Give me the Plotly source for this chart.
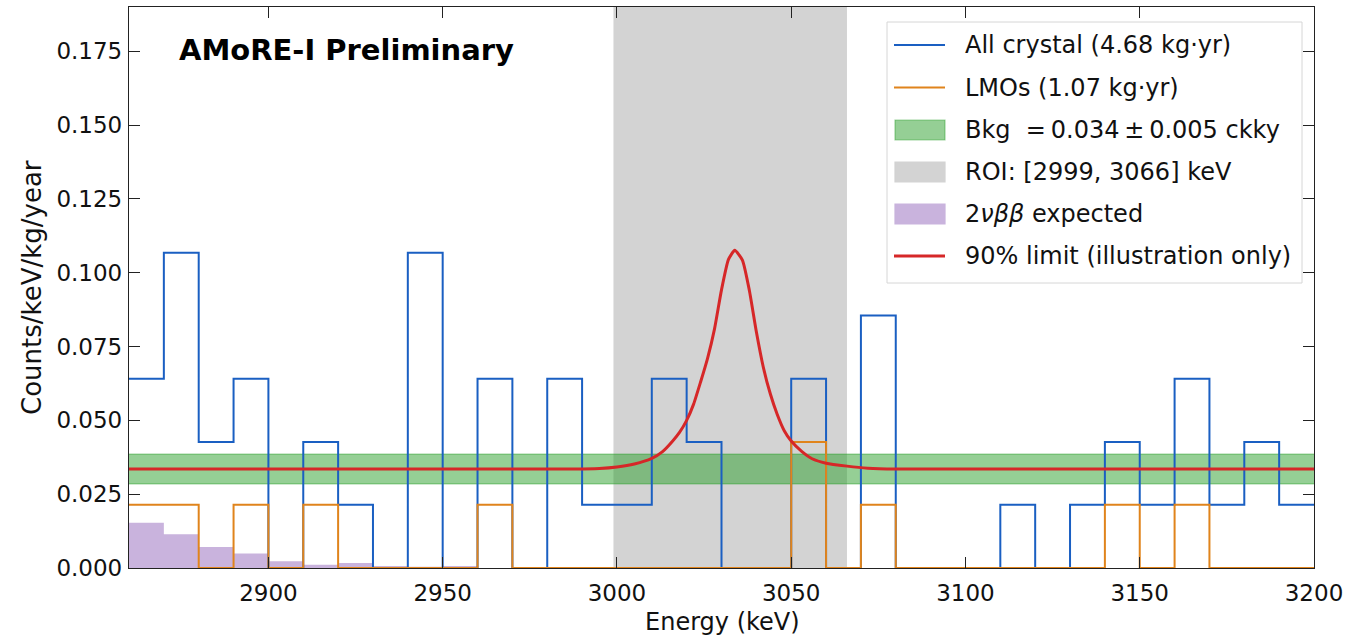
import plotly.graph_objects as go

# ---------------- data ----------------
BIN_LO = list(range(2860, 3200, 10))   # 10 keV bins, lower edges
BIN_WIDTH = 10

ALL_CRYSTAL = [0.0641, 0.1068, 0.0427, 0.0641, 0.0, 0.0427, 0.0214, 0.0, 0.1068, 0.0,
               0.0641, 0.0, 0.0641, 0.0214, 0.0214, 0.0641, 0.0427, 0.0, 0.0, 0.0641,
               0.0, 0.0855, 0.0, 0.0, 0.0, 0.0214, 0.0, 0.0214, 0.0427, 0.0214,
               0.0641, 0.0214, 0.0427, 0.0214]

LMOS = [0.0214, 0.0214, 0.0, 0.0214, 0.0, 0.0214, 0.0, 0.0, 0.0, 0.0,
        0.0214, 0.0, 0.0, 0.0, 0.0, 0.0, 0.0, 0.0, 0.0, 0.0427,
        0.0, 0.0214, 0.0, 0.0, 0.0, 0.0, 0.0, 0.0, 0.0214, 0.0,
        0.0214, 0.0, 0.0, 0.0]

TWO_NU = [0.0153, 0.0114, 0.0071, 0.0049, 0.0023, 0.0011, 0.0017, 0.0007, 0.0004, 0.0007,
          0.0, 0.0, 0.0, 0.0, 0.0, 0.0, 0.0, 0.0, 0.0, 0.0,
          0.0, 0.0, 0.0, 0.0, 0.0, 0.0, 0.0, 0.0, 0.0, 0.0,
          0.0, 0.0, 0.0, 0.0]

BKG_CENTER = 0.0335
BKG_HALF = 0.005
ROI = [2999, 3066]

LIMIT_E = [2860, 2985, 2995, 3000, 3005, 3010, 3013, 3016, 3018, 3020, 3022, 3024, 3026, 3028,
           3030, 3032, 3033.8, 3036, 3038, 3040, 3042, 3044, 3046, 3048, 3050, 3053, 3056,
           3060, 3066, 3072, 3080, 3200]
LIMIT_Y = [0.0335, 0.0335, 0.0337, 0.0342, 0.0352, 0.0371, 0.0393, 0.0430, 0.0460, 0.0500,
           0.0555, 0.0630, 0.0710, 0.0810, 0.0942, 0.1045, 0.1076, 0.1043, 0.0940, 0.0800,
           0.0680, 0.0590, 0.0520, 0.0465, 0.0430, 0.0395, 0.0370, 0.0355, 0.0345, 0.0338,
           0.0335, 0.0335]

X_RANGE = [2860, 3200]
Y_RANGE = [0, 0.19]
X_TICKS = [2900, 2950, 3000, 3050, 3100, 3150, 3200]
Y_TICKS = [0.0, 0.025, 0.05, 0.075, 0.1, 0.125, 0.15, 0.175]

LEGEND_LABELS = ["All crystal (4.68 kg·yr)",
                 "LMOs (1.07 kg·yr)",
                 "Bkg  =\u20090.034\u2009±\u20090.005 ckky",
                 "ROI: [2999, 3066] keV",
                 "2<i>νββ</i> expected",
                 "90% limit (illustration only)"]

# ---------------- styles ----------------
FONT = "DejaVu Sans"
BLUE = "#1a5fc2"
ORANGE = "#e0841c"
RED = "#d62728"
GREEN_FILL = "rgba(44,160,44,0.5)"
GREEN_EDGE = "rgba(44,160,44,0.45)"
GREY = "#d3d3d3"
PURPLE = "#c9b3dd"
AXIS = "#222222"

edges = BIN_LO + [BIN_LO[-1] + BIN_WIDTH]


def step(vals):
    return list(vals) + [vals[-1]]


fig = go.Figure()

# ROI band (below traces)
fig.add_vrect(x0=ROI[0], x1=ROI[1], fillcolor=GREY, line_width=0, layer="below")

# 2nbb expected (filled step)
fig.add_trace(go.Scatter(x=edges, y=step(TWO_NU), mode="lines", line=dict(width=0, shape="hv"),
                         fill="tozeroy", fillcolor=PURPLE, showlegend=False, hoverinfo="skip"))

# Background band
fig.add_trace(go.Scatter(x=X_RANGE, y=[BKG_CENTER - BKG_HALF] * 2, mode="lines",
                         line=dict(color=GREEN_EDGE, width=1.5), showlegend=False, hoverinfo="skip"))
fig.add_trace(go.Scatter(x=X_RANGE, y=[BKG_CENTER + BKG_HALF] * 2, mode="lines",
                         line=dict(color=GREEN_EDGE, width=1.5), fill="tonexty",
                         fillcolor=GREEN_FILL, showlegend=False, hoverinfo="skip"))

# Histograms
fig.add_trace(go.Scatter(x=edges, y=step(ALL_CRYSTAL), mode="lines",
                         line=dict(color=BLUE, width=2, shape="hv"), showlegend=False))
fig.add_trace(go.Scatter(x=edges, y=step(LMOS), mode="lines",
                         line=dict(color=ORANGE, width=2, shape="hv"), showlegend=False))

# 90% limit illustration
fig.add_trace(go.Scatter(x=LIMIT_E, y=LIMIT_Y, mode="lines",
                         line=dict(color=RED, width=3, shape="spline", smoothing=0.5),
                         showlegend=False))

# ---------------- layout ----------------
L, R, T, B = 129, 43, 7, 70
W, H = 1357, 638
PW, PH = W - L - R, H - T - B


def px(p):
    return (p - L) / PW


def py(p):
    return (H - B - p) / PH


axis_common = dict(showline=True, linecolor=AXIS, linewidth=1.3, mirror="ticks",
                   ticks="inside", ticklen=11, tickwidth=1.2, tickcolor=AXIS,
                   showgrid=False, zeroline=False,
                   tickfont=dict(family=FONT, size=23, color="#111111"))

fig.update_layout(
    width=W, height=H,
    margin=dict(l=L, r=R, t=T, b=B),
    paper_bgcolor="white", plot_bgcolor="white",
    font=dict(family=FONT, color="#111111"),
    xaxis=dict(range=X_RANGE, tickvals=X_TICKS, ticklabelstandoff=4, **axis_common),
    yaxis=dict(range=Y_RANGE, tickvals=Y_TICKS, tickformat=".3f", ticklabelstandoff=1, **axis_common),
    showlegend=False,
)

annotations = []
shapes = []

# Axis titles
annotations.append(dict(text="Energy (keV)", xref="paper", yref="paper", x=px(722), y=py(622),
                        xanchor="center", yanchor="middle", showarrow=False,
                        font=dict(family=FONT, size=24, color="#111111")))
annotations.append(dict(text="Counts/keV/kg/year", xref="paper", yref="paper", x=px(32), y=py(288),
                        xanchor="center", yanchor="middle", showarrow=False, textangle=-90,
                        font=dict(family=FONT, size=26, color="#111111")))

# Panel label
annotations.append(dict(text="<b>AMoRE-I Preliminary</b>", xref="paper", yref="paper",
                        x=px(177), y=py(50), xanchor="left", yanchor="middle", showarrow=False,
                        font=dict(family=FONT, size=29, color="#000000")))

# Manual legend
shapes.append(dict(type="rect", xref="paper", yref="paper", x0=px(887), x1=px(1302),
                   y0=py(283), y1=py(22), fillcolor="rgba(255,255,255,0.85)",
                   line=dict(color="#d6d6d6", width=1), layer="above"))
row_y = [45, 87.5, 130, 172, 214, 256]
handles = [("line", BLUE, None), ("line", ORANGE, None), ("rect", GREEN_FILL, GREEN_EDGE),
           ("rect", GREY, GREY), ("rect", PURPLE, PURPLE), ("line", RED, None)]
for (kind, col, edge), yy, lab in zip(handles, row_y, LEGEND_LABELS):
    if kind == "line":
        shapes.append(dict(type="line", xref="paper", yref="paper", x0=px(894), x1=px(945),
                           y0=py(yy), y1=py(yy), line=dict(color=col, width=3 if col == RED else 2.2),
                           layer="above"))
    else:
        shapes.append(dict(type="rect", xref="paper", yref="paper", x0=px(895), x1=px(945),
                           y0=py(yy + 10), y1=py(yy - 10), fillcolor=col,
                           line=dict(color=edge, width=1.2), layer="above"))
    annotations.append(dict(text=lab, xref="paper", yref="paper", x=px(963), y=py(yy),
                            xanchor="left", yanchor="middle", showarrow=False,
                            font=dict(family=FONT, size=24, color="#111111")))

fig.update_layout(annotations=annotations, shapes=list(fig.layout.shapes) + shapes)

fig.write_html("out.html", config={"displayModeBar": False},
               post_script="document.body.style.margin='0px';")
